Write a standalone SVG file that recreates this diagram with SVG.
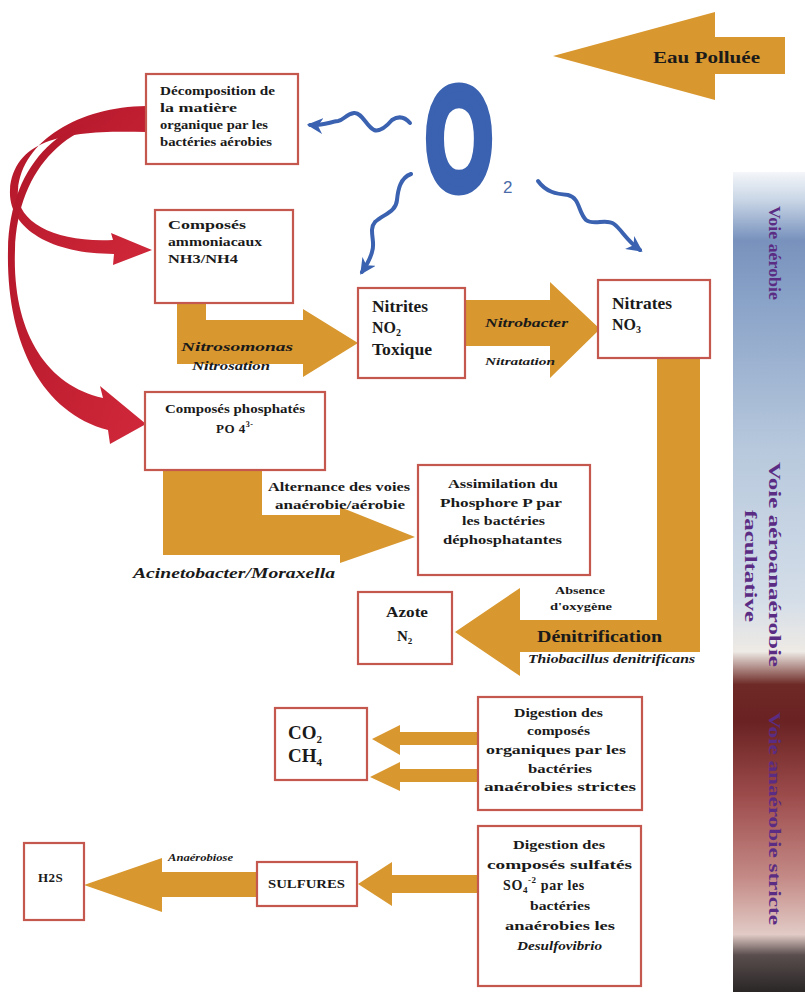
<svg xmlns="http://www.w3.org/2000/svg" width="805" height="992" viewBox="0 0 805 992">
<defs>
<linearGradient id="bar" x1="0" y1="172" x2="0" y2="992" gradientUnits="userSpaceOnUse">
<stop offset="0" stop-color="#f4f6f9"/>
<stop offset="0.034" stop-color="#c9d6e6"/>
<stop offset="0.083" stop-color="#7892bd"/>
<stop offset="0.16" stop-color="#8aa3c8"/>
<stop offset="0.34" stop-color="#b8c9dd"/>
<stop offset="0.52" stop-color="#d3dde8"/>
<stop offset="0.585" stop-color="#eeeae5"/>
<stop offset="0.625" stop-color="#6e2a26"/>
<stop offset="0.67" stop-color="#6a2222"/>
<stop offset="0.76" stop-color="#9c4b4b"/>
<stop offset="0.86" stop-color="#c48a86"/>
<stop offset="0.93" stop-color="#e2cbc6"/>
<stop offset="0.955" stop-color="#5a4e4e"/>
<stop offset="1" stop-color="#2a2626"/>
</linearGradient>
<linearGradient id="red" x1="0" y1="0" x2="1" y2="1">
<stop offset="0" stop-color="#b01528"/>
<stop offset="1" stop-color="#d0283a"/>
</linearGradient>
<marker id="bh" viewBox="0 0 10 10" refX="8" refY="5" markerWidth="4" markerHeight="4" orient="auto">
<path d="M0,0 L10,5 L0,10 L3,5 Z" fill="#3a62b0"/>
</marker>
<style>
.box{fill:#fff;stroke:#c4584e;stroke-width:2.2}
.t{font-family:"Liberation Serif",serif;font-weight:bold;fill:#1a1a1a}
.i{font-style:italic}
.or{fill:#d8972f}
.sq{fill:none;stroke:#3a62b0;stroke-width:4;stroke-linecap:round;marker-end:url(#bh)}
.rot{font-family:"Liberation Serif",serif;font-weight:bold;fill:#5b2c83;font-size:17px}
</style>
</defs>
<rect width="805" height="992" fill="#fff"/>

<g id="side-bar">
<rect x="733" y="172" width="72" height="820" fill="url(#bar)"/>
<text class="rot" transform="translate(769,206) rotate(90)" textLength="94" lengthAdjust="spacingAndGlyphs">Voie aérobie</text>
<text class="rot" transform="translate(769,462) rotate(90)" textLength="205" lengthAdjust="spacingAndGlyphs">Voie aéroanaérobie</text>
<text class="rot" transform="translate(745,510) rotate(90)" textLength="112" lengthAdjust="spacingAndGlyphs">facultative</text>
<text class="rot" transform="translate(769,712) rotate(90)" textLength="213" lengthAdjust="spacingAndGlyphs">Voie anaérobie stricte</text>
</g>

<g id="connectors">
<path fill="url(#red)" d="M146,106 C80,107 22,140 18,190 C15,222 55,243 113,240 L111,233 L152,250 L113,265 L114,254 C50,254 8,228 10,190 C14,135 75,130 146,132 Z"/>
<path fill="url(#red)" d="M146,114 C70,118 18,165 15,250 C12,330 45,385 103,398 L100,386 L146,424 L110,444 L108,430 C40,412 6,340 8,250 C10,160 65,112 146,110 Z"/>
<path class="sq" d="M410,123 C404,116 398,116 392,120 C386,127 380,132 374,130 C366,126 362,112 354,113 C346,114 344,120 338,121 C330,122 322,126 310,125"/>
<path class="sq" d="M411,174 C400,178 398,190 397,200 C396,212 384,214 375,222 C368,230 376,242 372,252 C370,260 366,266 362,272"/>
<path class="sq" d="M538,181 C546,192 556,194 568,195 C580,198 578,212 586,220 C594,226 606,218 614,224 C622,230 626,240 640,250"/>
<path class="or" d="M177,303 L206,303 L206,320 L303,320 L303,309 L358,343 L303,377 L303,364 L177,364 Z"/>
<path class="or" d="M465,300 L550,300 L550,282 L600,329 L550,378 L550,346 L465,346 Z"/>
<path class="or" d="M657,358 L700,358 L700,652 L520,652 L520,676 L455,632 L520,588 L520,620 L657,620 Z"/>
<path class="or" d="M163,470 L262,470 L262,515 L340,515 L340,507 L415,537 L340,563 L340,555 L163,555 Z"/>
<path class="or" d="M478,732 L400,732 L400,725 L372,739 L400,755 L400,745 L478,745 Z"/>
<path class="or" d="M478,769 L400,769 L400,762 L370,777 L400,791 L400,782 L478,782 Z"/>
<path class="or" d="M478,875 L392,875 L392,862 L358,884 L392,906 L392,893 L478,893 Z"/>
<path class="or" d="M257,872 L162,872 L162,858 L84,885 L162,912 L162,897 L257,897 Z"/>
<path class="or" d="M785,37 L715,37 L715,12 L553,56 L715,100 L715,74 L785,74 Z"/>
</g>

<g id="labels">
<text class="t" x="653" y="63" font-size="16" textLength="107" lengthAdjust="spacingAndGlyphs">Eau  Polluée</text>
<text class="t i" x="181" y="351" font-size="13" textLength="112" lengthAdjust="spacingAndGlyphs">Nitrosomonas</text>
<text class="t i" x="192" y="370" font-size="13" textLength="78" lengthAdjust="spacingAndGlyphs">Nitrosation</text>
<text class="t i" x="485" y="327" font-size="12" textLength="83" lengthAdjust="spacingAndGlyphs">Nitrobacter</text>
<text class="t i" x="485" y="365" font-size="11" textLength="70" lengthAdjust="spacingAndGlyphs">Nitratation</text>
<text class="t" x="268" y="491" font-size="12.5" textLength="142" lengthAdjust="spacingAndGlyphs">Alternance des voies</text>
<text class="t" x="275" y="509" font-size="12.5" textLength="130" lengthAdjust="spacingAndGlyphs">anaérobie/aérobie</text>
<text class="t i" x="133" y="578" font-size="15" textLength="202" lengthAdjust="spacingAndGlyphs">Acinetobacter/Moraxella</text>
<text class="t" x="555" y="594" font-size="10.5" textLength="50" lengthAdjust="spacingAndGlyphs">Absence</text>
<text class="t" x="550" y="610" font-size="10.5" textLength="62" lengthAdjust="spacingAndGlyphs">d'oxygène</text>
<text class="t" x="537" y="642" font-size="17" textLength="125" lengthAdjust="spacingAndGlyphs">Dénitrification</text>
<text class="t i" x="528" y="663" font-size="12.5" textLength="167" lengthAdjust="spacingAndGlyphs">Thiobacillus denitrificans</text>
<text class="t i" x="168" y="861" font-size="10.5" textLength="65" lengthAdjust="spacingAndGlyphs">Anaérobiose</text>
</g>

<g id="o2">
<text transform="translate(459,190) scale(0.6,1)" font-family="Liberation Sans,sans-serif" font-weight="bold" font-size="146" fill="#3a62b0" stroke="#3a62b0" stroke-width="9" text-anchor="middle">O</text>
<text x="503" y="193" font-family="Liberation Sans,sans-serif" font-size="17" fill="#4a6aa8">2</text>
</g>

<g id="decomposition">
<rect class="box" x="146" y="74" width="152" height="90"/>
<text class="t" font-size="12.5" x="160" y="95" textLength="115" lengthAdjust="spacingAndGlyphs">Décomposition de</text>
<text class="t" font-size="12.5" x="160" y="112" textLength="77" lengthAdjust="spacingAndGlyphs">la matière</text>
<text class="t" font-size="12.5" x="160" y="129" textLength="108" lengthAdjust="spacingAndGlyphs">organique par les</text>
<text class="t" font-size="12.5" x="160" y="146" textLength="112" lengthAdjust="spacingAndGlyphs">bactéries aérobies</text>
</g>

<g id="ammoniacaux">
<rect class="box" x="155" y="210" width="138" height="93"/>
<text class="t" font-size="12.5" x="168" y="229" textLength="78" lengthAdjust="spacingAndGlyphs">Composés</text>
<text class="t" font-size="12.5" x="168" y="246" textLength="94" lengthAdjust="spacingAndGlyphs">ammoniacaux</text>
<text class="t" font-size="12.5" x="168" y="263" textLength="70" lengthAdjust="spacingAndGlyphs">NH3/NH4</text>
</g>

<g id="nitrites">
<rect class="box" x="358" y="288" width="107" height="90"/>
<text class="t" font-size="16" x="372" y="312" textLength="56" lengthAdjust="spacingAndGlyphs">Nitrites</text>
<text class="t" font-size="16" x="372" y="333">NO<tspan font-size="10" dy="3">2</tspan></text>
<text class="t" font-size="16" x="372" y="355" textLength="60" lengthAdjust="spacingAndGlyphs">Toxique</text>
</g>

<g id="nitrates">
<rect class="box" x="598" y="280" width="112" height="78"/>
<text class="t" font-size="16" x="612" y="309" textLength="60" lengthAdjust="spacingAndGlyphs">Nitrates</text>
<text class="t" font-size="16" x="612" y="330">NO<tspan font-size="10" dy="3">3</tspan></text>
</g>

<g id="phosphates">
<rect class="box" x="145" y="392" width="180" height="78"/>
<text class="t" font-size="12.5" x="165" y="413" textLength="140" lengthAdjust="spacingAndGlyphs">Composés phosphatés</text>
<text class="t" font-size="13" x="216" y="433" letter-spacing="0.5">PO 4<tspan font-size="8" dy="-6">3-</tspan></text>
</g>

<g id="assimilation">
<rect class="box" x="418" y="465" width="172" height="110"/>
<text class="t" font-size="13.5" x="448" y="488" textLength="110" lengthAdjust="spacingAndGlyphs">Assimilation du</text>
<text class="t" font-size="13.5" x="440" y="507" textLength="122" lengthAdjust="spacingAndGlyphs">Phosphore P  par</text>
<text class="t" font-size="13.5" x="462" y="525" textLength="83" lengthAdjust="spacingAndGlyphs">les bactéries</text>
<text class="t" font-size="13.5" x="443" y="544" textLength="119" lengthAdjust="spacingAndGlyphs">déphosphatantes</text>
</g>

<g id="azote">
<rect class="box" x="358" y="592" width="94" height="72"/>
<text class="t" font-size="15" x="386" y="617" textLength="42" lengthAdjust="spacingAndGlyphs">Azote</text>
<text class="t" font-size="15" x="397" y="641">N<tspan font-size="9" dy="3">2</tspan></text>
</g>

<g id="co2-ch4">
<rect class="box" x="275" y="708" width="92" height="72"/>
<text class="t" font-size="19" x="288" y="739">CO<tspan font-size="11" dy="4">2</tspan></text>
<text class="t" font-size="19" x="288" y="762">CH<tspan font-size="11" dy="4">4</tspan></text>
</g>

<g id="digestion-organique">
<rect class="box" x="478" y="697" width="164" height="113"/>
<text class="t" font-size="12.5" x="514" y="717" textLength="89" lengthAdjust="spacingAndGlyphs">Digestion des</text>
<text class="t" font-size="12.5" x="527" y="735" textLength="63" lengthAdjust="spacingAndGlyphs">composés</text>
<text class="t" font-size="12.5" x="486" y="754" textLength="140" lengthAdjust="spacingAndGlyphs">organiques par  les</text>
<text class="t" font-size="12.5" x="528" y="773" textLength="64" lengthAdjust="spacingAndGlyphs">bactéries</text>
<text class="t" font-size="12.5" x="484" y="791" textLength="152" lengthAdjust="spacingAndGlyphs">anaérobies strictes</text>
</g>

<g id="h2s">
<rect class="box" x="24" y="843" width="60" height="77"/>
<text class="t" font-size="13" x="38" y="882" letter-spacing="0.5">H2S</text>
</g>

<g id="sulfures">
<rect class="box" x="257" y="862" width="100" height="44"/>
<text class="t" font-size="11.5" x="268" y="888" textLength="77" lengthAdjust="spacingAndGlyphs">SULFURES</text>
</g>

<g id="digestion-sulfates">
<rect class="box" x="478" y="826" width="163" height="160"/>
<text class="t" font-size="12.5" x="513" y="849" textLength="92" lengthAdjust="spacingAndGlyphs">Digestion des</text>
<text class="t" font-size="12.5" x="487" y="869" textLength="145" lengthAdjust="spacingAndGlyphs">composés  sulfatés</text>
<text class="t" font-size="14" x="503" y="890" letter-spacing="0.6">SO<tspan font-size="9" dy="3">4</tspan><tspan font-size="9" dy="-10">-2</tspan><tspan dy="7"> par les</tspan></text>
<text class="t" font-size="12.5" x="530" y="910" textLength="60" lengthAdjust="spacingAndGlyphs">bactéries</text>
<text class="t" font-size="12.5" x="505" y="930" textLength="110" lengthAdjust="spacingAndGlyphs">anaérobies les</text>
<text class="t i" font-size="12.5" x="517" y="950" textLength="85" lengthAdjust="spacingAndGlyphs">Desulfovibrio</text>
</g>
</svg>
